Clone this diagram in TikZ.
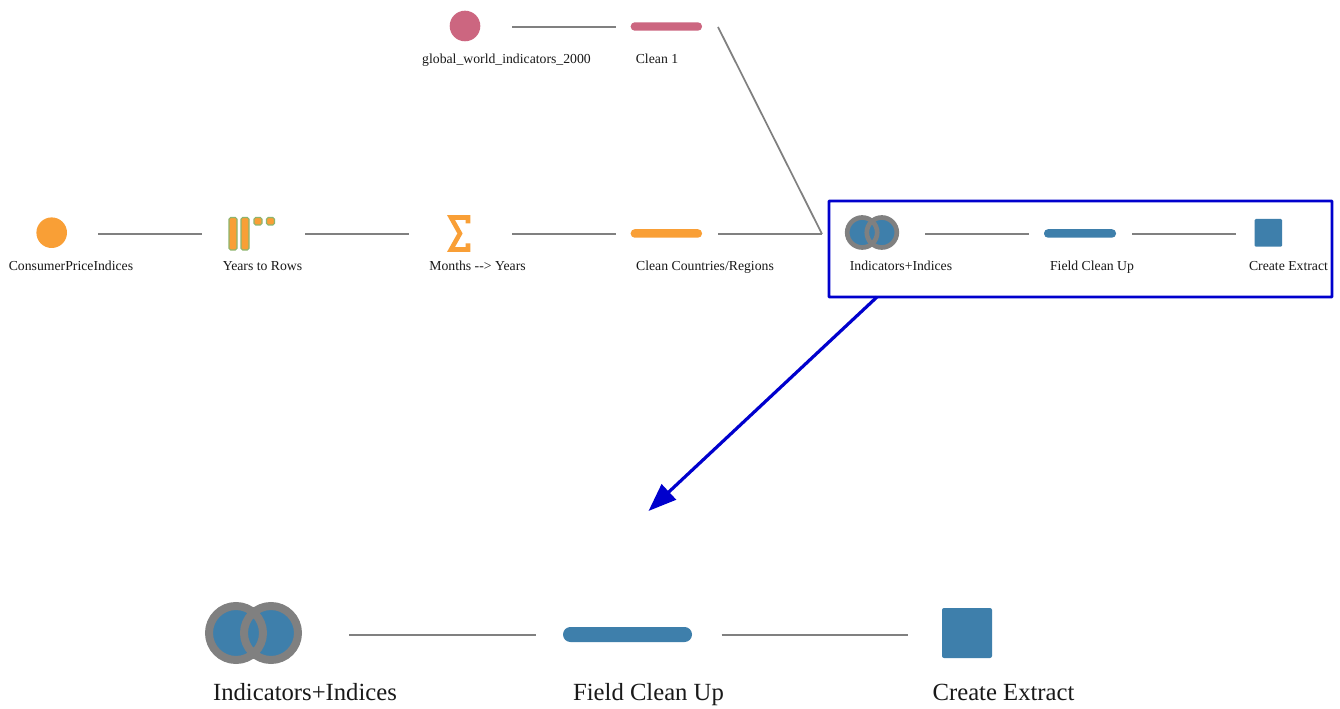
\documentclass[tikz,border=0pt]{standalone}
\usepackage{fontspec}
\setmainfont{Liberation Serif}
\usetikzlibrary{arrows.meta}
\definecolor{orangeflow}{HTML}{F99F36}
\definecolor{pinkflow}{HTML}{CC6680}
\definecolor{blueflow}{HTML}{3E7FAB}
\definecolor{greenedge}{HTML}{8DB56E}
\definecolor{linkgrey}{HTML}{808080}
\definecolor{boxblue}{HTML}{0000CD}
\tikzset{
  x=0.75pt,y=-0.75pt,
  cell/.style={inner sep=0pt,outer sep=0pt,minimum height=1pt,minimum width=#1},
  link/.style={draw=linkgrey,line width=1.3pt},
  biglink/.style={draw=linkgrey,line width=2.1pt},
  smalltext/.style={anchor=base,inner sep=0pt,font=\fontsize{10.3pt}{12pt}\selectfont,text=black!90},
  bigtext/.style={anchor=base,inner sep=0pt,font=\fontsize{18.5pt}{22pt}\selectfont,text=black!90},
  chosen/.style={draw=boxblue,line width=2.2pt,rounded corners=0.6pt,inner sep=0pt,minimum width=377.25pt,minimum height=72pt},
  chosenarrow/.style={draw=boxblue,fill=boxblue,line width=2.4pt,-{Triangle[length=21pt,width=15.5pt,fill=boxblue]}},
}
\begin{document}
\begin{tikzpicture}
\useasboundingbox (0,0) rectangle (1340,709);
\fill[white] (0,0) rectangle (1340,709);

% invisible cells: the connector ends stop at their sides
\node[cell=1pt] (cpi) at (98,234) {};
\node[cell=77.25pt] (years) at (253.5,234) {};
\node[cell=77.25pt] (months) at (460.5,234) {};
\node[cell=76.5pt] (cleancr) at (667,234) {};
\node[cell=1pt] (indic) at (925,234) {};
\node[cell=77.25pt] (field) at (1080.5,234) {};
\node[cell=1pt] (extract) at (1236,234) {};
\node[cell=1pt] (gwi) at (512,27) {};
\node[cell=76.5pt] (clean1) at (667,27) {};
\coordinate (join) at (822,234);
\node[cell=1pt] (bigindic) at (349,635) {};
\node[cell=139.5pt] (bigfield) at (628.5,635) {};
\node[cell=1pt] (bigextract) at (908,635) {};

% connectors
\draw[link] (gwi.center) -- (clean1.west);
\draw[link] (clean1.east) -- (join);
\draw[link] (cpi.center) -- (years.west);
\draw[link] (years.east) -- (months.west);
\draw[link] (months.east) -- (cleancr.west);
\draw[link] (cleancr.east) -- (join);
\draw[link] (indic.center) -- (field.west);
\draw[link] (field.east) -- (extract.center);
\draw[biglink] (bigindic.center) -- (bigfield.west);
\draw[biglink] (bigfield.east) -- (bigextract.center);

% top row icons
\fill[pinkflow] (465,26) circle[radius=15.3];
\fill[pinkflow,rounded corners=3pt] (630.7,22.3) rectangle (702,30.7);

% middle row icons
\fill[orangeflow] (51.7,232.7) circle[radius=15.3];
\begin{scope}[fill=orangeflow,draw=greenedge,line width=0.8pt,rounded corners=1.2pt]
  \filldraw (229,217.5) rectangle (237,250);
  \filldraw (241,217.5) rectangle (249,250);
  \filldraw (254,217.5) rectangle (262,225);
  \filldraw (266.5,217.5) rectangle (274.5,225);
\end{scope}
\draw[orangeflow,line width=3.4pt,miter limit=10] (468,223.5) -- (468,217.5) -- (451,217.5) -- (460,233.5) -- (451,249.5) -- (468,249.5) -- (468,243.5);
\fill[orangeflow,rounded corners=3pt] (630.7,229.2) rectangle (702,237.7);

% selected group icons
\fill[blueflow] (862.2,232.5) circle[radius=15.5] (881.8,232.5) circle[radius=15.5];
\draw[linkgrey,line width=3.5pt] (862.2,232.5) circle[radius=15] (881.8,232.5) circle[radius=15];
\fill[blueflow,rounded corners=3pt] (1044,229.2) rectangle (1116,237.7);
\fill[blueflow,rounded corners=0.8pt] (1254.7,219) rectangle (1282,246.7);

% enlarged icons
\fill[blueflow] (236,633) circle[radius=28] (271,633) circle[radius=28];
\draw[linkgrey,line width=6pt] (236,633) circle[radius=27] (271,633) circle[radius=27];
\fill[blueflow,rounded corners=5.6pt] (563,627) rectangle (692,642);
\fill[blueflow,rounded corners=1.5pt] (942,608) rectangle (992,658);

% labels
\node[smalltext] (t1) at (506.5,64) {global\_world\_indicators\_2000};
\node[smalltext] (t2) at (657,64) {Clean 1};
\node[smalltext] (t3) at (71,271) {ConsumerPriceIndices};
\node[smalltext] (t4) at (262.5,271) {Years to Rows};
\node[smalltext] (t5) at (477.5,271) {Months -{}-{}> Years};
\node[smalltext] (t6) at (705,271) {Clean Countries/Regions};
\node[smalltext] (t7) at (901,271) {Indicators+Indices};
\node[smalltext] (t8) at (1092,271) {Field Clean Up};
\node[smalltext] (t9) at (1288.5,271) {Create Extract};
\node[bigtext] (t10) at (305,700) {Indicators+Indices};
\node[bigtext] (t11) at (648.5,700) {Field Clean Up};
\node[bigtext] (t12) at (1003.5,700) {Create Extract};

% selection box and arrow
\node[chosen] (box) at (1080.5,249) {};
\coordinate (arrowstart) at (877,297);
\coordinate (arrowend) at (648.5,511);
\draw[chosenarrow] (arrowstart) -- (arrowend);
\end{tikzpicture}
\end{document}
